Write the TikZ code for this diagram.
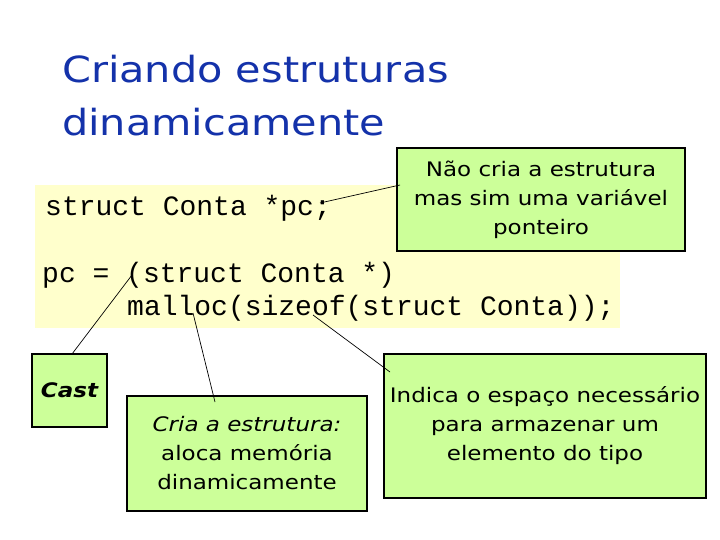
\documentclass[tikz,border=0pt]{standalone}
\usepackage{fontspec}
\setmainfont{DejaVu Sans}
\setmonofont{Liberation Mono}
\newfontfamily\largafonte[FakeStretch=1.15]{DejaVu Sans}
\usetikzlibrary{positioning}
\definecolor{titulo}{RGB}{20,50,170}
\definecolor{verdec}{HTML}{CCFF99}
\definecolor{amarc}{HTML}{FFFFCC}
\tikzset{
  nota/.style={rectangle, draw=black, line width=1.2pt, fill=verdec, align=center,
               font=\largafonte\fontsize{20}{29}\selectfont, inner sep=0pt},
  codigo/.style={anchor=base west, inner sep=0pt, font=\ttfamily\fontsize{28}{32}\selectfont},
  tit/.style={anchor=base west, inner sep=0pt, text=titulo, font=\largafonte\fontsize{36}{50}\selectfont},
  liga/.style={line width=0.7pt, draw=black},
}

\begin{document}
\begin{tikzpicture}[x=1pt, y=-1pt]
   \useasboundingbox[fill=white] (0,0) rectangle (720,540);
   % titulo
   \node[tit] (t1) at (62,83) {Criando estruturas};
   \node[tit] (t2) at (62,136) {dinamicamente};
   % codigo
   \node[fill=amarc, inner sep=0pt, minimum width=585, minimum height=143, anchor=north west] (fundo) at (35,185) {};
   \node[codigo] (decl) at (45,215) {struct Conta *pc;};
   \node[codigo] (atr) at (42,282) {pc = (struct Conta *)};
   \node[codigo] (aloc) at (127,315) {malloc(sizeof(struct Conta));};
   % notas
   \node[nota, minimum width=288, minimum height=103] (nao) at (541,199.5) {Não cria a estrutura\\mas sim uma variável\\ponteiro};
   \node[nota, minimum width=75, minimum height=73] (cast) at (69.5,390.5) {\bfseries\itshape Cast};
   \node[nota, minimum width=240, minimum height=115] (cria) at (247,453.5) {\itshape Cria a estrutura:\\aloca memória\\dinamicamente};
   \node[nota, minimum width=322, minimum height=144] (indica) at (545,426) {Indica o espaço necessário\\para armazenar um\\elemento do tipo};
   % ligacoes
   \coordinate (pPtr) at (320,203);   \coordinate (eNao) at (400,185);
   \coordinate (pCast) at (132,275);  \coordinate (eCast) at (72,354);
   \coordinate (pCria) at (193,313);  \coordinate (eCria) at (215,402);
   \coordinate (pInd) at (313,315);   \coordinate (eInd) at (390,372);
   \draw[liga] (pPtr) -- (eNao);
   \draw[liga] (pCast) -- (eCast);
   \draw[liga] (pCria) -- (eCria);
   \draw[liga] (pInd) -- (eInd);
\end{tikzpicture}
\end{document}
